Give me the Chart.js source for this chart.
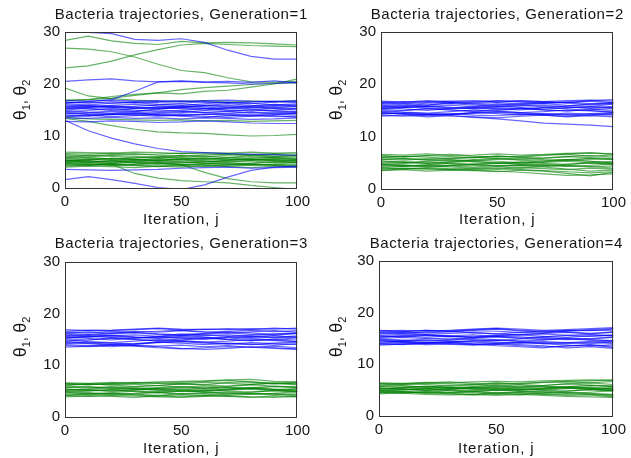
<!DOCTYPE html>
<html>
<head>
<meta charset="utf-8">
<script src="https://cdn.jsdelivr.net/npm/chart.js@4.4.1/dist/chart.umd.min.js"></script>
<style>
  html, body { margin: 0; padding: 0; background: #fff; }
  #wrap { position: relative; width: 631px; height: 458px; overflow: hidden; }
  canvas { position: absolute; }
</style>
</head>
<body>
<div id="wrap">
  <canvas id="c1" width="315" height="229" style="left:0;top:0"></canvas>
  <canvas id="c2" width="315" height="229" style="left:316px;top:0"></canvas>
  <canvas id="c3" width="315" height="229" style="left:0;top:229px"></canvas>
  <canvas id="c4" width="315" height="229" style="left:316px;top:229px"></canvas>
</div>
<script>
// Sampled iterations j for every trajectory
const iterations = [0, 10, 20, 30, 40, 50, 60, 70, 80, 90, 100];
const yTicks = [0, 10, 20, 30];
const xTicks = [0, 50, 100];
const generations = [1, 2, 3, 4];

// Generation 1: theta_1 (blue) and theta_2 (green) trajectories
const gen1Theta1 = [
  [15.0,15.3,15.1,14.8,15.2,15.5,15.3,14.9,15.1,15.4,15.2],
  [14.2,14.5,14.8,14.6,14.3,14.5,14.9,14.7,14.4,14.6,14.3],
  [15.8,15.6,15.9,16.1,15.8,15.6,15.9,16.2,15.9,15.7,16.0],
  [16.4,16.5,16.3,16.6,16.4,16.3,16.6,16.4,16.2,16.5,16.6],
  [13.8,14.0,13.7,13.9,14.1,13.8,13.6,13.9,14.0,13.7,13.8],
  [15.5,15.2,14.9,15.3,15.6,15.2,15.0,15.4,15.6,15.3,15.0],
  [14.7,14.9,15.3,15.0,14.7,14.9,15.2,15.5,15.2,14.9,14.7],
  [16.0,15.8,15.5,15.7,16.0,16.2,15.9,15.6,15.8,16.1,15.9],
  [13.5,13.4,13.6,13.4,13.5,13.3,13.5,13.4,13.2,13.3,13.5],
  [14.4,14.1,14.3,14.4,14.0,14.2,14.1,14.3,14.6,14.2,14.0],
  [15.3,15.6,15.5,15.3,15.5,15.8,15.6,15.2,15.5,15.9,15.6],
  [16.8,16.7,16.9,16.7,16.8,16.6,16.8,16.9,16.7,16.6,16.8],
  [14.9,14.6,14.4,14.7,15.0,14.8,14.5,14.7,15.0,14.8,14.6],
  [15.6,15.9,15.7,15.4,15.3,15.6,15.8,15.9,15.6,15.4,15.7],
  [14.0,13.8,14.1,14.3,14.0,13.9,14.2,14.0,13.8,14.1,14.4],
  [16.2,16.0,16.3,16.4,16.1,15.9,16.2,16.5,16.3,16.0,16.2],
  [15.2,15.5,15.8,15.5,15.2,15.4,15.3,15.0,14.8,15.0,15.3],
  [14.6,14.3,14.1,14.2,14.5,14.7,14.5,14.2,14.0,14.3,14.5],
  [13.7,13.9,14.2,14.0,13.8,14.0,13.8,13.6,13.8,13.9,13.6],
  [16.5,16.3,16.6,16.4,16.6,16.8,16.5,16.3,16.5,16.7,16.4],
  [30.0,29.9,29.7,28.6,28.4,28.7,28.0,26.5,25.3,24.8,24.8],
  [20.5,20.8,21.0,20.6,20.4,20.5,20.3,20.2,20.0,20.1,20.3],
  [16.3,16.6,17.0,18.6,20.4,20.6,20.4,20.5,20.3,20.6,20.2],
  [13.0,11.0,9.6,8.5,7.6,7.0,6.8,6.6,6.5,6.4,6.3],
  [12.8,12.7,12.9,12.8,12.6,12.7,12.9,12.7,12.5,12.4,12.4],
  [3.6,3.5,3.4,3.5,3.6,3.8,3.9,4.0,3.8,3.9,4.0],
  [1.6,2.2,1.6,0.9,0.1,-0.3,0.6,2.1,3.4,4.0,4.2]
];
const gen1Theta2 = [
  [5.0,5.2,4.9,5.1,5.3,5.0,4.8,5.1,5.2,4.9,5.0],
  [4.4,4.6,4.3,4.5,4.7,4.4,4.6,4.8,4.5,4.3,4.5],
  [5.6,5.4,5.7,5.5,5.3,5.6,5.8,5.5,5.4,5.7,5.5],
  [6.2,6.0,6.3,6.1,5.9,6.2,6.0,6.3,6.4,6.1,6.2],
  [4.0,4.2,4.1,3.9,4.2,4.0,4.3,4.1,3.9,4.2,4.0],
  [5.3,5.0,5.2,5.4,5.1,4.8,5.0,5.3,5.5,5.2,4.9],
  [4.7,4.9,5.2,4.8,4.6,4.9,5.2,4.9,4.7,5.0,5.3],
  [5.9,5.7,5.5,5.8,6.0,5.7,5.5,5.8,6.0,5.8,5.6],
  [6.6,6.5,6.7,6.4,6.5,6.7,6.5,6.6,6.4,6.6,6.5],
  [4.5,4.3,4.6,4.4,4.2,4.5,4.4,4.2,4.4,4.6,4.3],
  [5.1,5.5,5.3,5.0,5.4,5.5,5.2,5.0,5.3,5.5,5.2],
  [6.9,6.8,6.7,6.9,6.8,6.6,6.8,6.7,6.9,6.7,6.8],
  [5.4,5.2,5.0,5.3,5.6,5.4,5.1,5.3,5.6,5.4,5.1],
  [4.8,4.5,4.7,5.0,4.8,4.5,4.7,4.5,4.8,5.1,4.8],
  [6.0,6.3,6.1,5.8,6.0,6.3,6.1,5.9,6.2,6.4,6.1],
  [4.2,4.4,4.6,4.3,4.1,4.3,4.1,4.4,4.6,4.4,4.1],
  [5.7,5.9,5.6,5.4,5.7,5.9,5.6,5.4,5.7,5.9,5.8],
  [4.9,4.7,4.4,4.6,4.9,5.1,4.8,4.6,4.4,4.6,4.9],
  [6.4,6.2,6.4,6.6,6.3,6.1,6.3,6.5,6.2,6.0,6.3],
  [5.2,5.4,5.7,5.5,5.2,5.4,5.6,5.8,5.5,5.3,5.5],
  [28.4,29.2,28.3,27.8,27.6,28.2,27.9,28.0,27.9,27.7,27.5],
  [26.9,26.7,26.2,25.2,23.8,22.6,22.2,21.2,20.4,20.3,20.5],
  [23.1,23.5,24.4,25.6,26.6,27.5,27.8,27.6,27.4,27.3,27.2],
  [19.2,17.7,17.2,16.9,16.7,16.6,16.8,16.5,16.7,16.6,16.8],
  [16.8,17.0,17.3,17.8,18.3,18.9,19.3,19.6,19.9,20.1,20.2],
  [16.9,17.0,17.6,18.0,18.3,18.1,18.6,18.8,19.4,20.0,21.0],
  [13.4,12.8,12.0,11.3,10.8,10.6,10.5,10.2,10.0,10.1,10.3],
  [13.6,13.3,13.2,13.1,13.0,13.1,12.9,13.0,12.8,12.9,13.0],
  [5.0,4.9,4.6,2.8,1.9,1.4,1.2,1.0,0.5,0.1,-0.3],
  [5.2,5.0,4.8,4.9,5.0,4.5,3.0,1.8,1.2,1.0,1.0]
];

// Generation 2
const gen2Theta1 = [
  [15.2,15.0,15.3,15.1,14.9,15.2,15.4,15.1,14.9,15.2,15.0],
  [14.3,14.6,14.4,14.2,14.5,14.7,14.4,14.2,14.5,14.3,14.1],
  [16.0,15.8,16.1,16.3,16.0,15.8,16.1,16.3,16.0,15.8,16.2],
  [16.5,16.7,16.6,16.8,16.9,16.6,16.8,16.7,16.5,16.9,17.1],
  [13.9,14.1,13.8,14.0,13.8,13.6,13.9,14.1,13.8,14.0,13.8],
  [15.6,15.3,15.0,15.4,15.7,15.3,15.1,15.5,15.7,15.4,15.6],
  [14.8,15.0,15.4,15.1,14.8,15.0,15.3,15.6,15.3,15.0,14.7],
  [15.9,15.6,15.8,16.0,15.7,16.2,16.0,15.7,15.9,16.2,16.4],
  [14.5,14.3,14.0,14.2,14.6,14.4,14.1,14.4,14.2,14.0,14.3],
  [15.4,15.7,15.5,15.3,15.6,15.9,15.6,15.2,15.5,15.8,15.5],
  [16.2,16.4,16.0,16.5,16.3,16.5,16.2,16.4,16.6,16.3,16.5],
  [14.5,14.4,14.2,14.0,13.7,13.4,13.0,12.6,12.4,12.2,11.9],
  [15.0,14.7,14.5,14.8,15.1,14.9,14.6,14.8,15.1,14.9,14.7],
  [15.7,16.0,15.8,15.5,15.4,15.7,15.9,16.0,15.7,15.5,15.8],
  [14.1,13.9,14.2,14.4,14.1,14.0,14.3,14.1,13.9,14.2,14.5],
  [16.3,16.1,16.4,16.5,16.2,16.0,16.3,16.6,16.4,16.1,16.3],
  [15.3,15.6,15.9,15.6,15.3,15.5,15.4,15.1,14.9,15.1,15.4],
  [14.7,14.4,14.2,14.3,14.6,14.8,14.6,14.3,14.1,14.4,14.6],
  [16.8,16.6,16.9,16.7,16.5,16.8,16.9,16.7,16.9,17.0,16.8],
  [16.6,16.4,16.7,16.5,16.7,16.9,16.6,16.4,16.6,16.8,16.5]
];
const gen2Theta2 = [
  [5.0,5.2,4.9,5.1,5.3,5.0,4.8,5.1,5.3,5.0,4.8],
  [4.3,4.5,4.2,4.4,4.6,4.3,4.5,4.7,4.4,4.2,4.4],
  [5.7,5.5,5.8,5.6,5.4,5.7,5.9,5.6,5.5,5.8,5.6],
  [6.3,6.1,6.4,6.2,6.0,6.3,6.1,6.4,6.6,6.3,6.5],
  [3.8,4.0,3.9,3.7,4.0,3.8,4.1,3.9,3.7,4.0,3.8],
  [5.4,5.1,5.3,5.5,5.2,4.9,5.1,5.4,5.6,5.3,5.0],
  [4.7,4.9,5.2,4.8,4.6,4.9,5.2,4.9,4.7,5.0,5.3],
  [6.0,5.8,5.6,5.9,6.1,5.8,5.6,5.9,6.2,6.0,5.8],
  [6.6,6.5,6.7,6.4,6.5,6.7,6.5,6.6,6.8,6.9,6.7],
  [4.5,4.3,4.6,4.4,4.2,4.5,4.4,4.2,3.8,3.4,3.6],
  [4.0,3.9,3.8,3.7,3.6,3.4,3.2,2.9,2.6,2.7,2.9],
  [3.5,3.7,3.4,3.6,3.5,3.3,3.6,3.4,3.0,2.5,3.2],
  [5.3,5.1,4.9,5.2,5.5,5.3,5.0,5.2,5.5,5.3,5.0],
  [4.7,4.4,4.6,4.9,4.7,4.4,4.6,4.4,4.7,5.0,4.7],
  [6.0,6.3,6.1,5.8,6.0,6.3,6.1,5.9,6.2,6.4,6.1],
  [4.1,4.3,4.5,4.2,4.0,4.2,4.0,4.3,4.5,4.3,4.0],
  [5.6,5.8,5.5,5.3,5.6,5.8,5.5,5.3,5.6,5.8,5.7],
  [4.8,4.6,4.3,4.5,4.8,5.0,4.7,4.5,4.3,4.5,4.8],
  [6.4,6.2,6.4,6.6,6.3,6.1,6.3,6.5,6.7,6.9,6.6],
  [3.6,3.8,4.1,3.9,3.7,3.9,3.7,3.5,3.3,3.1,3.3]
];

// Generation 3
const gen3Theta1 = [
  [15.1,14.9,15.2,15.0,14.8,15.1,15.3,15.0,14.8,15.1,14.9],
  [14.2,14.5,14.3,14.1,14.4,14.6,14.3,14.1,14.4,14.2,14.0],
  [16.0,15.8,16.1,16.3,16.0,15.8,16.1,16.3,16.0,15.8,16.2],
  [16.6,16.8,16.7,16.9,17.1,16.8,17.0,16.9,17.1,17.0,17.2],
  [13.8,13.6,13.9,13.7,13.4,13.2,13.4,13.6,13.5,13.3,13.1],
  [15.5,15.2,14.9,15.3,15.6,15.2,15.0,15.4,15.6,15.3,15.5],
  [14.7,14.9,15.3,15.0,14.7,14.9,15.2,15.5,15.2,14.9,14.6],
  [15.8,15.5,15.7,15.9,15.6,16.1,15.9,15.6,15.8,16.1,16.3],
  [14.4,14.2,13.9,14.1,14.5,14.3,14.0,14.3,14.1,13.9,14.2],
  [15.3,15.6,15.4,15.2,15.5,15.8,15.5,15.1,15.4,15.7,15.4],
  [16.3,16.5,16.2,16.6,16.4,16.7,16.4,16.6,16.8,16.5,16.7],
  [14.0,13.8,13.6,13.9,13.7,13.9,13.6,13.8,13.5,13.7,13.4],
  [14.9,14.6,14.4,14.7,15.0,14.8,14.5,14.7,15.0,14.8,14.6],
  [15.6,15.9,15.7,15.4,15.3,15.6,15.8,15.9,15.6,15.4,15.7],
  [13.5,13.7,14.0,13.8,13.6,13.3,13.1,13.3,13.6,13.4,13.2],
  [16.2,16.0,16.3,16.4,16.1,15.9,16.2,16.5,16.3,16.0,16.2],
  [15.2,15.5,15.8,15.5,15.2,15.4,15.3,15.0,14.8,15.0,15.3],
  [14.6,14.3,14.1,14.2,14.5,14.7,14.5,14.2,14.0,14.3,14.5],
  [16.9,16.7,16.8,17.0,17.2,17.0,16.9,17.1,16.9,17.2,17.0],
  [16.5,16.3,16.6,16.4,16.6,16.8,16.5,16.3,16.5,16.7,16.4]
];
const gen3Theta2 = [
  [5.1,5.3,5.0,5.2,5.4,5.1,4.9,5.2,5.4,5.1,4.9],
  [4.4,4.6,4.3,4.5,4.7,4.4,4.6,4.8,4.5,4.3,4.5],
  [5.8,5.6,5.9,5.7,5.5,5.8,6.0,5.7,5.6,5.9,5.7],
  [6.4,6.2,6.5,6.3,6.1,6.4,6.2,6.7,6.8,6.4,6.6],
  [3.9,4.1,4.0,3.8,4.1,3.9,4.2,4.0,3.8,4.1,3.9],
  [5.4,5.1,5.3,5.5,5.2,4.9,5.1,5.4,5.6,5.3,5.0],
  [4.8,5.0,5.3,4.9,4.7,5.0,5.3,5.0,4.8,5.1,5.4],
  [6.0,5.8,5.6,5.9,6.1,5.8,5.6,5.9,6.2,6.0,5.8],
  [6.6,6.5,6.7,6.6,6.8,6.9,7.0,7.2,7.3,6.9,6.8],
  [4.5,4.3,4.6,4.4,4.2,4.5,4.4,4.2,4.4,4.6,4.3],
  [4.2,4.0,4.2,4.1,3.9,3.8,4.0,4.1,3.9,3.8,4.0],
  [6.2,6.4,6.2,6.5,6.6,6.4,6.7,6.5,6.3,6.6,6.4],
  [5.4,5.2,5.0,5.3,5.6,5.4,5.1,5.3,5.6,5.4,5.1],
  [4.8,4.5,4.7,5.0,4.8,4.5,4.7,4.5,4.8,5.1,4.8],
  [6.1,6.4,6.2,5.9,6.1,6.4,6.2,6.0,6.3,6.5,6.2],
  [4.2,4.4,4.6,4.3,4.1,4.3,4.1,4.4,4.6,4.4,4.1],
  [5.7,5.9,5.6,5.4,5.7,5.9,5.6,5.4,5.7,5.9,5.8],
  [4.9,4.7,4.4,4.6,4.9,5.1,4.8,4.6,4.4,4.6,4.9],
  [6.5,6.3,6.5,6.7,6.5,6.7,6.9,7.1,6.8,6.5,6.7],
  [5.2,5.4,5.7,5.5,5.2,5.4,5.6,5.8,5.5,5.3,5.5]
];

// Generation 4
const gen4Theta1 = [
  [15.0,15.2,15.0,14.8,15.1,15.3,15.0,14.8,15.1,14.9,15.2],
  [14.3,14.5,14.2,14.4,14.6,14.3,14.1,14.4,14.2,14.0,14.3],
  [15.9,16.1,15.8,16.0,16.2,15.9,15.7,16.0,16.2,15.9,16.3],
  [16.5,16.6,16.4,16.6,16.8,17.0,16.8,16.6,16.7,16.9,17.1],
  [13.9,14.0,13.8,13.9,13.7,13.9,13.6,13.4,13.5,13.7,13.3],
  [15.5,15.3,15.6,15.4,15.2,15.5,15.7,15.4,15.2,15.5,15.6],
  [14.8,14.6,14.9,15.1,14.8,14.6,14.9,15.2,14.9,14.7,14.5],
  [16.2,16.3,16.1,16.3,16.5,16.4,16.2,16.1,16.4,16.6,16.5],
  [14.6,14.4,14.7,14.5,14.3,14.1,14.3,14.0,14.2,14.4,14.0],
  [15.3,15.5,15.2,15.5,15.7,15.4,15.1,15.3,15.6,15.8,15.5],
  [16.6,16.4,16.6,16.5,16.7,16.9,16.6,16.4,16.6,16.5,16.8],
  [14.1,14.3,14.0,14.2,13.9,13.6,13.4,13.2,13.6,13.8,13.5],
  [14.9,14.7,14.5,14.7,15.0,14.8,14.5,14.7,15.0,14.8,14.6],
  [15.6,15.8,15.7,15.4,15.3,15.6,15.8,15.9,15.6,15.4,15.7],
  [14.0,13.8,14.1,14.3,14.0,13.9,14.2,14.0,13.7,13.5,13.8],
  [16.1,16.0,16.3,16.4,16.1,15.9,16.2,16.5,16.3,16.0,16.2],
  [15.2,15.5,15.7,15.5,15.2,15.4,15.3,15.0,14.8,15.0,15.3],
  [14.6,14.3,14.1,14.2,14.5,14.7,14.5,14.2,14.0,14.3,14.5],
  [13.7,13.9,14.2,14.0,13.8,14.0,13.8,13.6,13.2,13.4,13.1],
  [16.4,16.3,16.6,16.4,16.6,16.8,16.5,16.3,16.5,16.7,16.9]
];
const gen4Theta2 = [
  [5.0,5.2,5.0,5.2,5.4,5.1,4.9,5.2,5.4,5.1,4.9],
  [4.5,4.7,4.4,4.5,4.7,4.4,4.6,4.8,4.5,4.3,4.2],
  [5.7,5.5,5.8,5.6,5.5,5.8,6.0,5.7,5.6,5.9,5.7],
  [6.2,6.1,6.3,6.2,6.1,6.4,6.2,6.5,6.6,6.4,6.7],
  [4.5,4.4,4.2,4.1,4.2,4.0,4.2,4.0,3.8,3.7,3.6],
  [5.4,5.1,5.3,5.5,5.2,4.9,5.1,5.4,5.6,5.3,5.0],
  [4.8,5.0,5.3,4.9,4.7,5.0,5.3,5.0,4.8,5.1,5.4],
  [5.9,5.8,5.6,5.9,6.1,5.8,5.6,5.9,6.2,6.0,5.8],
  [6.4,6.3,6.5,6.4,6.6,6.7,6.6,6.8,6.9,7.0,6.9],
  [4.6,4.4,4.6,4.4,4.2,4.5,4.4,4.2,4.3,4.2,3.9],
  [5.2,5.5,5.3,5.1,5.4,5.5,5.2,5.0,5.3,5.6,5.2],
  [4.9,4.7,4.9,4.6,4.5,4.3,4.5,4.3,4.0,4.1,3.7],
  [5.4,5.2,5.0,5.3,5.6,5.4,5.1,5.3,5.6,5.4,5.1],
  [4.8,4.5,4.7,5.0,4.8,4.5,4.7,4.5,4.8,5.1,4.8],
  [6.0,6.2,6.1,5.8,6.0,6.3,6.1,5.9,6.2,6.4,6.1],
  [4.3,4.5,4.6,4.3,4.1,4.3,4.1,4.4,4.6,4.4,4.1],
  [5.7,5.9,5.6,5.4,5.7,5.9,5.6,5.4,5.7,5.9,5.8],
  [4.9,4.7,4.4,4.6,4.9,5.1,4.8,4.6,4.4,4.6,4.9],
  [6.3,6.2,6.4,6.6,6.3,6.1,6.3,6.5,6.7,6.8,7.0],
  [5.2,5.4,5.7,5.5,5.2,5.4,5.6,5.8,5.5,5.3,5.5]
];

const theta1ByGen = [gen1Theta1, gen2Theta1, gen3Theta1, gen4Theta1];
const theta2ByGen = [gen1Theta2, gen2Theta2, gen3Theta2, gen4Theta2];

// Plot box (left, top, right, bottom) inside each canvas
const plotBoxes = [
  [65, 32, 300, 188],
  [65, 32, 300, 189],
  [65, 33, 300, 188],
  [63, 32, 299, 187]
];
// vertical centre of the rotated y label inside each canvas
const yLabelCentres = [100, 100, 108, 108];

const FONT = "'Liberation Sans', Arial, Helvetica, sans-serif";
const BLUE = 'rgba(0,0,255,0.6)';
const GREEN = 'rgba(0,128,0,0.6)';
const TEXT = '#151515';

// Frame around the axes box, title, x label and the subscripted y label
const framePlugin = {
  id: 'frameAndTitle',
  afterDatasetsDraw(chart, args, opts) {
    const a = chart.chartArea;
    const ctx = chart.ctx;
    ctx.save();
    ctx.strokeStyle = '#333';
    ctx.lineWidth = 1;
    ctx.strokeRect(Math.round(a.left) + 0.5, Math.round(a.top) + 0.5,
                   Math.round(a.right - a.left) - 1, Math.round(a.bottom - a.top));
    ctx.fillStyle = TEXT;
    ctx.textAlign = 'center';
    ctx.textBaseline = 'middle';
    ctx.font = '15px ' + FONT;
    ctx.letterSpacing = '0.6px';
    ctx.fillText(opts.title, (a.left + a.right) / 2, 15);
    ctx.letterSpacing = '0.9px';
    ctx.fillText(opts.xLabel, (a.left + a.right) / 2, 220);
    ctx.letterSpacing = '0px';

    // y label: theta with subscript indices, rotated
    const parts = [
      { t: 'θ', size: 18, dy: 0 }, { t: '1', size: 11, dy: 4 },
      { t: ', ', size: 15, dy: 0 },
      { t: 'θ', size: 18, dy: 0 }, { t: '2', size: 11, dy: 4 }
    ];
    ctx.textAlign = 'left';
    ctx.textBaseline = 'alphabetic';
    let total = 0;
    parts.forEach(p => { ctx.font = p.size + 'px ' + FONT; p.w = ctx.measureText(p.t).width; total += p.w; });
    ctx.translate(26, opts.yCentre);
    ctx.rotate(-Math.PI / 2);
    let x = -total / 2;
    parts.forEach(p => {
      ctx.font = p.size + 'px ' + FONT;
      ctx.fillText(p.t, x, p.dy);
      x += p.w;
    });
    ctx.restore();
  }
};

function toPoints(values) {
  return values.map((v, i) => ({ x: iterations[i], y: v }));
}

function makePanel(idx) {
  const [L, T, R, B] = plotBoxes[idx];
  const canvas = document.getElementById('c' + (idx + 1));
  const W = canvas.width, H = canvas.height;
  const datasets = [];
  theta1ByGen[idx].forEach(v => datasets.push({
    data: toPoints(v), borderColor: BLUE, borderWidth: 1.2, pointRadius: 0, tension: 0
  }));
  theta2ByGen[idx].forEach(v => datasets.push({
    data: toPoints(v), borderColor: GREEN, borderWidth: 1.2, pointRadius: 0, tension: 0
  }));
  return new Chart(canvas, {
    type: 'line',
    data: { datasets },
    plugins: [framePlugin],
    options: {
      responsive: false,
      animation: false,
      events: [],
      layout: { padding: { top: T, right: W - R, bottom: 0, left: 0 } },
      plugins: {
        legend: { display: false },
        tooltip: { enabled: false },
        frameAndTitle: {
          title: 'Bacteria trajectories, Generation=' + generations[idx],
          xLabel: 'Iteration, j',
          yCentre: yLabelCentres[idx]
        }
      },
      scales: {
        x: {
          type: 'linear', min: 0, max: 100,
          afterBuildTicks: s => { s.ticks = xTicks.map(v => ({ value: v })); },
          afterFit: s => { s.height = H - B; },
          grid: { display: false, drawTicks: false },
          border: { display: false },
          ticks: { padding: 5, color: TEXT, font: { family: FONT, size: 15 }, maxRotation: 0 }
        },
        y: {
          type: 'linear', min: 0, max: 30,
          afterBuildTicks: s => { s.ticks = yTicks.map(v => ({ value: v })); },
          afterFit: s => { s.width = L; },
          grid: { display: false, drawTicks: false },
          border: { display: false },
          ticks: { padding: 5, color: TEXT, font: { family: FONT, size: 15 } }
        }
      }
    }
  });
}

generations.forEach((g, i) => makePanel(i));
</script>
</body>
</html>
